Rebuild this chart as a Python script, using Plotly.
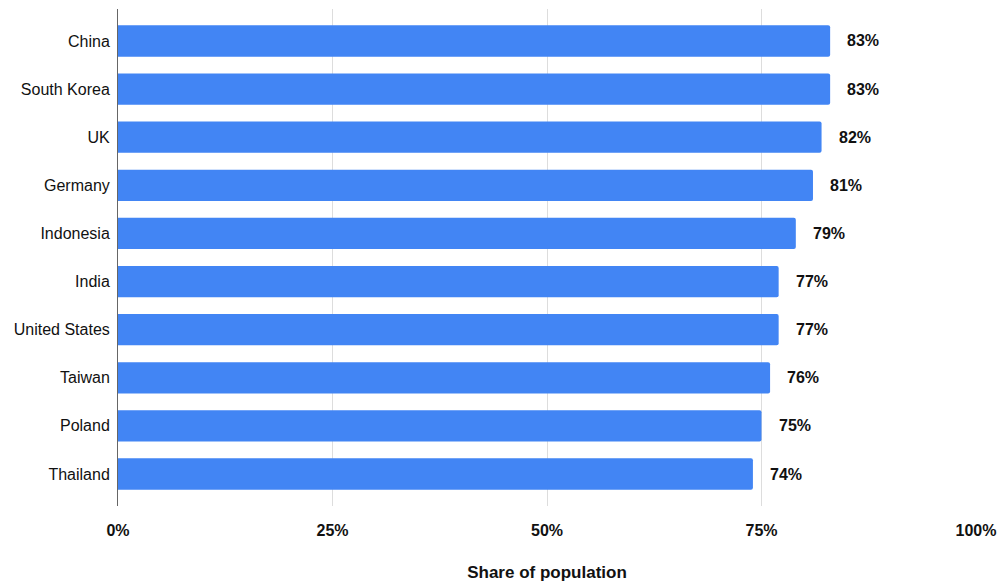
import plotly.graph_objects as go

countries = ["China", "South Korea", "UK", "Germany", "Indonesia", "India",
             "United States", "Taiwan", "Poland", "Thailand"]
values = [83, 83, 82, 81, 79, 77, 77, 76, 75, 74]
x_ticks = [0, 25, 50, 75, 100]
x_tick_labels = ["0%", "25%", "50%", "75%", "100%"]

FONT = "Liberation Sans, Arial, sans-serif"
TXT = "#111111"

fig = go.Figure()
fig.add_trace(go.Bar(
    y=countries, x=values, orientation="h",
    marker=dict(color="#4285F4", cornerradius=2, line=dict(width=0)),
    hoverinfo="skip",
))
for c, v in zip(countries, values):
    fig.add_annotation(x=v, y=c, text=f"{v}%", showarrow=False, xanchor="left",
                       xshift=15, font=dict(family=FONT, size=16,
                                            color=TXT, weight="bold"))

fig.update_layout(
    width=1000, height=582,
    margin=dict(l=118, r=24, t=9, b=76),
    plot_bgcolor="white", paper_bgcolor="white",
    bargap=0.35, showlegend=False,
    font=dict(family=FONT, size=16, color=TXT),
)
fig.update_xaxes(
    range=[0, 100], tickvals=x_ticks, ticktext=x_tick_labels, automargin=False,
    showgrid=True, gridcolor="#dddddd", gridwidth=1, zeroline=False,
    showline=False, ticks="outside", ticklen=10, tickcolor="rgba(0,0,0,0)",
    tickfont=dict(family=FONT, size=16, weight="bold", color=TXT),
    title=dict(text="Share of population", standoff=30,
               font=dict(family=FONT, size=17, weight="bold", color=TXT)),
)
fig.update_yaxes(
    range=[9.665, -0.665], categoryorder="array", categoryarray=countries,
    automargin=False,
    showline=True, linecolor="#666666", linewidth=1, showgrid=False,
    ticks="outside", ticklen=4, tickcolor="rgba(0,0,0,0)",
    tickfont=dict(family=FONT, size=16, color=TXT),
)
fig.write_html("out.html")
